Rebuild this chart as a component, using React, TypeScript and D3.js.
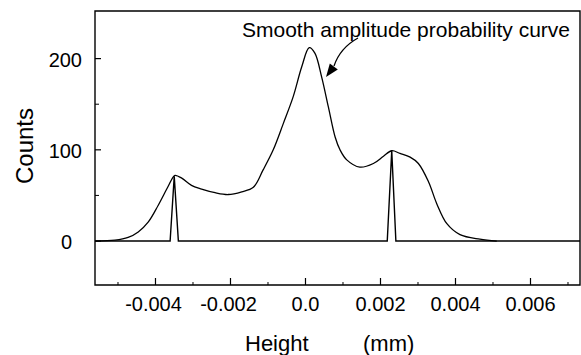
import React, { useEffect, useRef } from 'react';
import * as d3 from 'd3';

// smooth amplitude probability curve (height in mm, counts)
const curveHeights = [
  -0.00561, -0.00508, -0.00473, -0.00446, -0.00419, -0.00393, -0.0037, -0.00353, -0.00348,
  -0.0033, -0.00304, -0.00277, -0.00241, -0.00206, -0.0017, -0.00139, -0.00113, -0.00086,
  -0.00059, -0.00033, -0.0001, 0.0001, 0.00025, 0.00043, 0.00061, 0.00079, 0.00092, 0.0011,
  0.00145, 0.00181, 0.00208, 0.0023, 0.00252, 0.00279, 0.00301, 0.00328, 0.0035, 0.00377,
  0.00412, 0.00465, 0.0051,
];
const curveCounts = [
  0, 1, 4, 10, 21, 39, 57, 70, 72,
  69, 61, 57, 53, 51, 54, 59, 78, 100,
  129, 158, 191, 212, 206, 180, 147, 114, 100, 89,
  81, 85, 93, 99, 96, 92, 85, 65, 41, 19,
  7, 2, 0,
];

// the two narrow spikes drawn on the zero line
const spikeHeights = [-0.00561, -0.00361, -0.0035, -0.00339, 0.00218, 0.0023, 0.00241, 0.00732];
const spikeCounts = [0, 0, 71, 0, 0, 99, 0, 0];

const xMajorTicks = [-0.004, -0.002, 0, 0.002, 0.004, 0.006];
const xTickLabels = ['-0.004', '-0.002', '0.0', '0.002', '0.004', '0.006'];
const xMinorTicks = [-0.005, -0.003, -0.001, 0.001, 0.003, 0.005, 0.007];
const yMajorTicks = [0, 100, 200];
const yMinorTicks = [50, 150];

const FONT = '"Liberation Sans", Arial, Helvetica, sans-serif';

const App = () => {
  const svgRef = useRef<SVGSVGElement>(null);

  useEffect(() => {
    const svg = d3.select(svgRef.current);
    svg.selectAll('*').remove();

    const width = 581;
    const height = 355;
    const left = 95;
    const right = 580;
    const top = 11;
    const bottom = 285;

    const x = d3.scaleLinear().domain([-0.005613, 0.00732]).range([left, right]);
    const y = d3.scaleLinear().domain([-48.2, 252.2]).range([bottom, top]);

    svg.attr('width', width).attr('height', height);

    const line = d3.line<[number, number]>()
      .x(d => x(d[0]))
      .y(d => y(d[1]));

    // frame
    svg.append('path')
      .attr('d', `M${left},${bottom}V${top}H${right}V${bottom}Z`)
      .attr('fill', 'none')
      .attr('stroke', '#000')
      .attr('stroke-width', 1.4);

    // y ticks (inward)
    svg.selectAll('.ytick')
      .data(yMajorTicks)
      .enter()
      .append('line')
      .attr('x1', left).attr('x2', left + 6)
      .attr('y1', d => y(d)).attr('y2', d => y(d))
      .attr('stroke', '#000').attr('stroke-width', 1.2);
    svg.selectAll('.yminor')
      .data(yMinorTicks)
      .enter()
      .append('line')
      .attr('x1', left).attr('x2', left + 4)
      .attr('y1', d => y(d)).attr('y2', d => y(d))
      .attr('stroke', '#000').attr('stroke-width', 1);

    svg.selectAll('.ylabel')
      .data(yMajorTicks)
      .enter()
      .append('text')
      .attr('x', d => (d === 0 ? left - 23 : left - 13))
      .attr('y', d => y(d) + 8)
      .attr('text-anchor', 'end')
      .attr('font-family', FONT)
      .attr('font-size', '20px')
      .attr('fill', '#000')
      .text(d => String(d));

    // x ticks (inward)
    svg.selectAll('.xtick')
      .data(xMajorTicks)
      .enter()
      .append('line')
      .attr('x1', d => x(d)).attr('x2', d => x(d))
      .attr('y1', bottom).attr('y2', bottom - 7)
      .attr('stroke', '#000').attr('stroke-width', 1.2);
    svg.selectAll('.xminor')
      .data(xMinorTicks)
      .enter()
      .append('line')
      .attr('x1', d => x(d)).attr('x2', d => x(d))
      .attr('y1', bottom).attr('y2', bottom - 3)
      .attr('stroke', '#000').attr('stroke-width', 1);

    svg.selectAll('.xlabel')
      .data(xMajorTicks)
      .enter()
      .append('text')
      .attr('x', d => x(d) - (d < 0 ? 2 : 0))
      .attr('y', bottom + 26)
      .attr('text-anchor', 'middle')
      .attr('font-family', FONT)
      .attr('font-size', '20px')
      .attr('fill', '#000')
      .text((d, i) => xTickLabels[i]);

    // spike series along zero
    svg.append('path')
      .datum(spikeHeights.map((h, i) => [h, spikeCounts[i]] as [number, number]))
      .attr('d', line)
      .attr('fill', 'none')
      .attr('stroke', '#000')
      .attr('stroke-width', 1.4)
      .attr('stroke-linejoin', 'miter');

    // smooth curve
    svg.append('path')
      .datum(curveHeights.map((h, i) => [h, curveCounts[i]] as [number, number]))
      .attr('d', line.curve(d3.curveCatmullRom.alpha(0.5)))
      .attr('fill', 'none')
      .attr('stroke', '#000')
      .attr('stroke-width', 1.3);

    // axis titles
    svg.append('text')
      .attr('transform', 'translate(33,146) rotate(-90)')
      .attr('text-anchor', 'middle')
      .attr('font-family', FONT)
      .attr('font-size', '24px')
      .attr('fill', '#000')
      .text('Counts');

    svg.append('text')
      .attr('x', 245).attr('y', 351)
      .attr('font-family', FONT)
      .attr('font-size', '22px')
      .attr('fill', '#000')
      .text('Height');

    svg.append('text')
      .attr('x', 363).attr('y', 351)
      .attr('font-family', FONT)
      .attr('font-size', '22px')
      .attr('fill', '#000')
      .text('(mm)');

    // annotation with curved arrow
    svg.append('text')
      .attr('x', 242).attr('y', 36.5)
      .attr('font-family', FONT)
      .attr('font-size', '21px')
      .attr('fill', '#000')
      .text('Smooth amplitude probability curve');

    svg.append('path')
      .attr('d', 'M358,38Q340,48 334,66')
      .attr('fill', 'none')
      .attr('stroke', '#000')
      .attr('stroke-width', 1.3);
    svg.append('path')
      .attr('d', 'M326,77L329.8,63.6L337.8,69.6Z')
      .attr('fill', '#000');
  }, []);

  return (
    <div style={{ position: 'absolute', left: 0, top: 0, background: '#fff' }}>
      <svg ref={svgRef}></svg>
    </div>
  );
};

export default App;
